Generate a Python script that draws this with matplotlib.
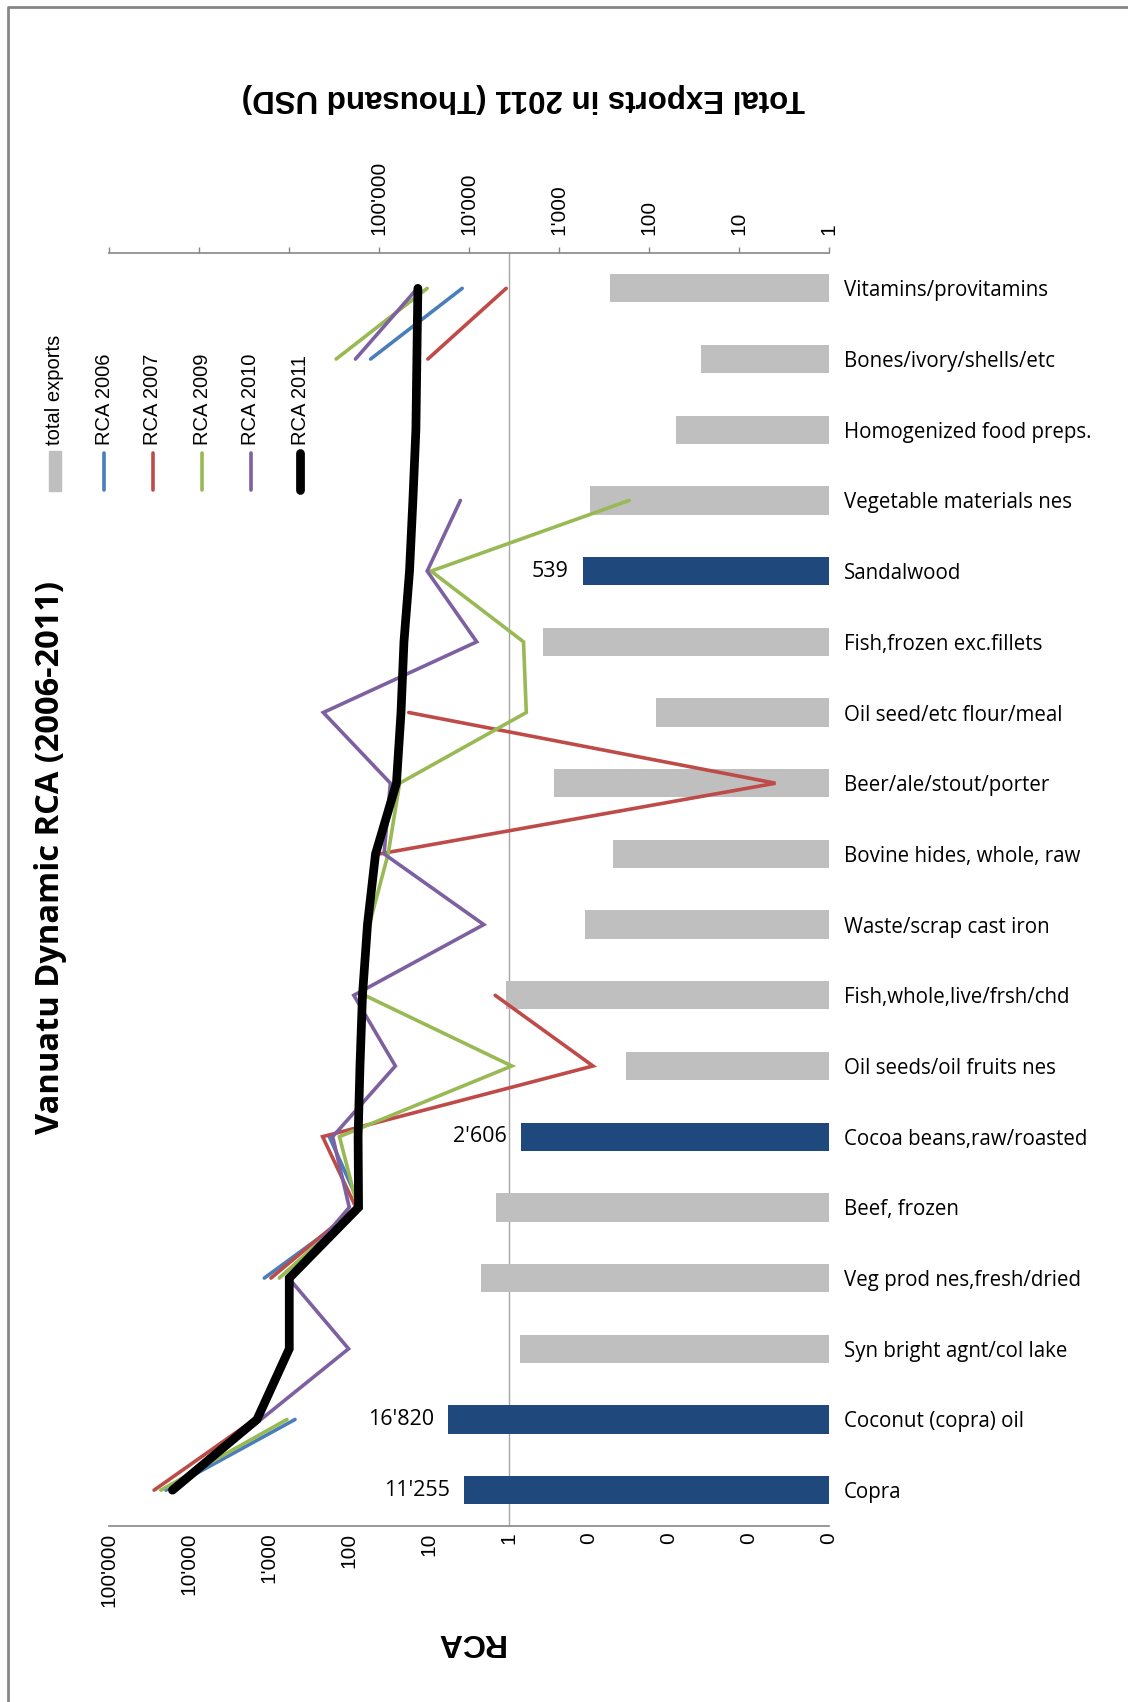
import numpy as np
import matplotlib
matplotlib.use('Agg')
import matplotlib.pyplot as plt
from matplotlib.lines import Line2D
from matplotlib.patches import Rectangle
from matplotlib.ticker import FuncFormatter, NullLocator
import matplotlib.transforms as mtransforms

# products, top to bottom
products = ['Vitamins/provitamins', 'Bones/ivory/shells/etc', 'Homogenized food preps.',
            'Vegetable materials nes', 'Sandalwood', 'Fish,frozen exc.fillets',
            'Oil seed/etc flour/meal', 'Beer/ale/stout/porter', 'Bovine hides, whole, raw',
            'Waste/scrap cast iron', 'Fish,whole,live/frsh/chd', 'Oil seeds/oil fruits nes',
            'Cocoa beans,raw/roasted', 'Beef, frozen', 'Veg prod nes,fresh/dried',
            'Syn bright agnt/col lake', 'Coconut (copra) oil', 'Copra']

# total exports 2011, thousand USD
exports = [265, 26, 50, 447, 539, 1480, 82, 1120, 250, 510, 3800, 180,
           2606, 5000, 7200, 2700, 16820, 11255]
highlight = ['Sandalwood', 'Cocoa beans,raw/roasted', 'Coconut (copra) oil', 'Copra']

nan = np.nan
rca_2006 = [3.8, 53, nan, nan, nan, nan, nan, nan, nan, nan, nan, nan,
            174, 70, 1132, nan, 467, 19200]
rca_2007 = [1.07, 10.2, nan, nan, nan, nan, 17.7, 0.00046, 41, nan, 1.47, 0.088,
            211, 81, 934, nan, 1500, 27000]
rca_2009 = [10.4, 143, nan, 0.031, 9.3, 0.65, 0.60, 23, 32, 55, 63, 0.91,
            130, 77, 735, nan, 589, 22200]
rca_2010 = [13.8, 82, nan, 4.0, 10.4, 2.5, 207, 30, 36, 2.04, 86, 26,
            158, 98, 560, 100, 1245, 16000]
rca_2011 = [13.6, 14.0, 14.4, 15.7, 17.3, 20.3, 22.1, 25.2, 46, 58, 67, 72,
            76, 75, 551, 551, 1396, 15900]

series = [('RCA 2006', rca_2006, '#4A7EBB', 2.6),
          ('RCA 2007', rca_2007, '#BE4B48', 2.6),
          ('RCA 2009', rca_2009, '#98B954', 2.6),
          ('RCA 2010', rca_2010, '#7D60A0', 2.6),
          ('RCA 2011', rca_2011, '#000000', 6.3)]

W, H = 1128, 1702
fig = plt.figure(figsize=(W / 100, H / 100), dpi=100)

def fx(px):
    return px / W

def fy(py):
    return 1 - py / H

gray_axis = '#868686'
left, right, top, bottom = 108.6, 828.5, 253, 1525.5
ax = fig.add_axes([fx(left), fy(bottom), fx(right - left), (bottom - top) / H])
ax2 = ax.twiny()

y = np.arange(len(products))

# exports bars
bar_cols = ['#1F497D' if p in highlight else '#BFBFBF' for p in products]
ax.barh(y, np.array(exports) - 1, left=1, height=0.4, color=bar_cols, zorder=2)
ax.set_xscale('log')
ax.set_xlim(1e8, 1)
ax.set_ylim(len(products) - 0.5, -0.5)

for i, p in enumerate(products):
    if p in highlight:
        ax.annotate(f'{exports[i]:,}'.replace(',', "'"), xy=(exports[i], i),
                    xytext=(-10, 0), textcoords='offset points',
                    ha='right', va='center', fontsize=15.5, family='Open Sans')

def exp_fmt(v, pos):
    if v > 1e5:
        return ''
    return f'{v:,.0f}'.replace(',', "'")

def rca_fmt(v, pos):
    if v < 1:
        return '0'
    return f'{v:,.0f}'.replace(',', "'")

ax.xaxis.tick_top()
ax.set_xticks([10.0 ** k for k in range(0, 9)])
ax.xaxis.set_minor_locator(NullLocator())
ax.xaxis.set_major_formatter(FuncFormatter(exp_fmt))
ax.tick_params(axis='x', which='major', direction='out', length=4, width=1,
               color=gray_axis, pad=9, labelsize=15, labelrotation=90)
for t in ax.get_xticklabels():
    t.set_family('Liberation Sans')

ax.yaxis.tick_right()
ax.set_yticks(y)
ax.set_yticklabels(products, family='Open Sans', fontsize=14.8)
ax.tick_params(axis='y', length=0, pad=11)

for s in ['left', 'right']:
    ax.spines[s].set_visible(False)
for s in ['top', 'bottom']:
    ax.spines[s].set_color(gray_axis)
    ax.spines[s].set_linewidth(1.2)

# RCA lines
ax2.set_xscale('log')
ax2.set_xlim(1e5, 1e-4)
for name, vals, col, lw in series:
    ax2.plot(vals, y, color=col, lw=lw, solid_capstyle='round',
             solid_joinstyle='miter', zorder=3)
ax2.xaxis.tick_bottom()
ax2.set_xticks([10.0 ** k for k in range(-4, 6)])
ax2.xaxis.set_minor_locator(NullLocator())
ax2.xaxis.set_major_formatter(FuncFormatter(rca_fmt))
ax2.tick_params(axis='x', which='major', length=0, pad=5, labelsize=15,
                labelrotation=90)
for t in ax2.get_xticklabels():
    t.set_family('Liberation Sans')
for s in ax2.spines.values():
    s.set_visible(False)

# RCA = 1 reference line, under the bars
trans = mtransforms.blended_transform_factory(ax2.transData, ax.transAxes)
ax.plot([1, 1], [0, 1], transform=trans, color='#A6A6A6', lw=1, zorder=1)

# titles
fig.text(fx(51), fy(858), 'Vanuatu Dynamic RCA (2006-2011)', rotation=90,
         ha='center', va='center', fontsize=23.5, fontweight='bold', family='Open Sans')
fig.text(fx(523), fy(98), 'Total Exports in 2011 (Thousand USD)', rotation=180,
         ha='center', va='center', fontsize=22.5, fontweight='bold', family='Liberation Sans')
fig.text(fx(469), fy(1642), 'RCA', rotation=180,
         ha='center', va='center', fontsize=23, fontweight='bold', family='Liberation Sans')

# legend
fig.add_artist(Rectangle((fx(49), fy(491)), fx(12), 40 / H, color='#BFBFBF',
                         transform=fig.transFigure))
fig.text(fx(55), fy(445), 'total exports', rotation=90, ha='center', va='bottom',
         fontsize=14.5, family='Liberation Sans')
for k, (name, vals, col, lw) in enumerate(series):
    xk = 104 + 49 * k
    fig.add_artist(Line2D([fx(xk), fx(xk)], [fy(453), fy(490)], color=col,
                          lw=lw, solid_capstyle='round', transform=fig.transFigure))
    fig.text(fx(xk), fy(445), name, rotation=90, ha='center', va='bottom',
             fontsize=14.5, family='Liberation Sans')

# chart frame
fig.add_artist(Line2D([fx(8), fx(8), fx(W)], [0, fy(7), fy(7)], color='#878787',
                      lw=2, transform=fig.transFigure))

fig.savefig('out.png', dpi=100)
